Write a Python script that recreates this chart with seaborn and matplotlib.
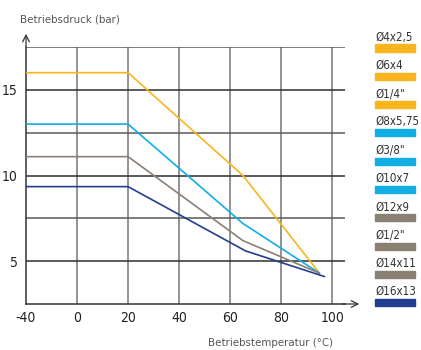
import numpy as np
import pandas as pd
import matplotlib
matplotlib.use("Agg")
import matplotlib.pyplot as plt
import seaborn as sns
from matplotlib.patches import Rectangle

sns.set_theme(style="white")
plt.rcParams['font.family'] = ['DejaVu Sans']
plt.rcParams['font.stretch'] = 'condensed'

# ---- data ----
tick_vals = [-40, 0, 20, 40, 60, 80, 100]
y_ticks = [5, 10, 15]
series_names = ["orange", "blue", "gray", "navy"]
temps_orange = [-40, 20, 65, 95]
press_orange = [16.0, 16.0, 10.0, 4.3]
temps_blue = [-40, 20, 65, 95]
press_blue = [13.0, 13.0, 7.2, 4.3]
temps_gray = [-40, 20, 65, 95]
press_gray = [11.1, 11.1, 6.2, 4.3]
temps_navy = [-40, 20, 66, 97]
press_navy = [9.35, 9.35, 5.6, 4.1]
colors = {"orange": "#F9B41E", "blue": "#11AEE6", "gray": "#8B8074", "navy": "#243E8F"}
legend_labels = ["Ø4x2,5", "Ø6x4", "Ø1/4\"", "Ø8x5,75", "Ø3/8\"", "Ø10x7",
                 "Ø12x9", "Ø1/2\"", "Ø14x11", "Ø16x13"]
legend_series = ["orange", "orange", "orange", "blue", "blue", "blue",
                 "gray", "gray", "gray", "navy"]
xlabel = "Betriebstemperatur (°C)"
ylabel = "Betriebsdruck (bar)"

# ---- build frame (x mapped onto equally spaced tick positions) ----
tick_pos = np.arange(len(tick_vals))
rows = []
for name, t, p in [("orange", temps_orange, press_orange), ("blue", temps_blue, press_blue),
                   ("gray", temps_gray, press_gray), ("navy", temps_navy, press_navy)]:
    for ti, pi in zip(t, p):
        rows.append({"series": name, "pos": float(np.interp(ti, tick_vals, tick_pos)), "p": pi})
df = pd.DataFrame(rows)

W, H = 421, 350
fig = plt.figure(figsize=(W / 100, H / 100), dpi=100)
ax = fig.add_axes([26 / W, (H - 304) / H, 319 / W, 257 / H])
ax.set_xlim(0, 6.25)
ax.set_ylim(2.5, 17.5)

# grid
for xp in tick_pos[1:]:
    ax.axvline(xp, color="#808080", lw=1.2, zorder=1)
for yv in np.arange(5, 17.6, 2.5):
    c = "#2e2e2e" if yv in y_ticks else "#5a5a5a"
    ax.axhline(yv, color=c, lw=1.1, zorder=1)

sns.lineplot(data=df, x="pos", y="p", hue="series", palette=colors, hue_order=series_names,
             sort=False, estimator=None, lw=1.2, legend=False, ax=ax, zorder=3)

for s in ["top", "right"]:
    ax.spines[s].set_visible(False)
ax.spines["left"].set_color("#333333")
ax.spines["bottom"].set_color("#333333")
ax.spines["left"].set_linewidth(1.1)
ax.spines["bottom"].set_linewidth(1.1)

ax.set_xticks(tick_pos)
ax.set_xticklabels([str(v) for v in tick_vals])
ax.set_yticks(y_ticks)
ax.set_yticklabels([str(v) for v in y_ticks])
ax.tick_params(axis="both", length=0, labelsize=10, colors="#222222")
ax.tick_params(axis="x", pad=5)
ax.tick_params(axis="y", pad=6)
ax.set_xlabel("")
ax.set_ylabel("")

# axis arrows
ax.annotate("", xy=(362 / W, (H - 304) / H), xytext=(340 / W, (H - 304) / H),
            xycoords="figure fraction",
            arrowprops=dict(arrowstyle="->", color="#333333", lw=0.9))
ax.annotate("", xy=(26 / W, (H - 31) / H), xytext=(26 / W, (H - 49) / H),
            xycoords="figure fraction",
            arrowprops=dict(arrowstyle="->", color="#333333", lw=0.9))

fig.text(20 / W, (H - 19) / H, ylabel, ha="left", va="center", fontsize=8.2, color="#555555")
fig.text(270 / W, (H - 343) / H, xlabel, ha="center", va="center", fontsize=8.2, color="#555555")

# legend
for i, (lab, ser) in enumerate(zip(legend_labels, legend_series)):
    ty = 37 + i * 28.3
    fig.text(375 / W, (H - ty) / H, lab, ha="left", va="center", fontsize=8.3, color="#333333")
    by = ty + 11
    fig.patches.append(Rectangle((375 / W, (H - by - 3.5) / H), 40 / W, 7 / H,
                                 transform=fig.transFigure, color=colors[ser]))

fig.savefig("out.png", dpi=100)
